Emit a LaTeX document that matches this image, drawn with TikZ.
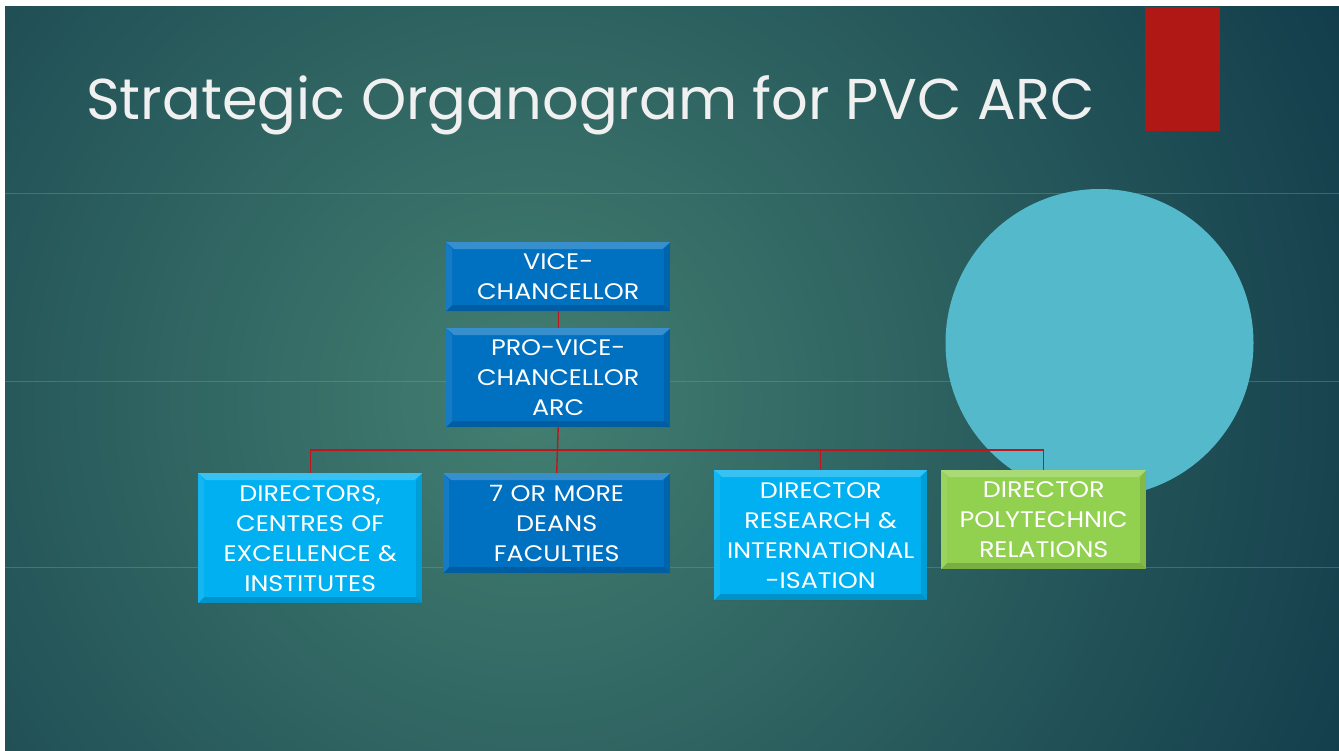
\documentclass[tikz,border=0pt]{standalone}
\usepackage{fontspec}
\setmainfont{Poppins}
\newfontfamily\boxfont{Poppins}[FakeStretch=1.13]
\definecolor{bgdark}{HTML}{0E3748}
\definecolor{bglight}{HTML}{437F71}
\definecolor{officeblue}{HTML}{0070C0}
\definecolor{officelight}{HTML}{00B0F0}
\definecolor{officegreen}{HTML}{92D050}
\definecolor{linered}{HTML}{C0161B}
\definecolor{accentred}{HTML}{B01815}
\definecolor{circlecol}{HTML}{53B9CB}
\definecolor{ruleline}{HTML}{6F9FA6}
\tikzset{
  orgbox/.style={rectangle, fill=#1, inner sep=2pt, anchor=north west,
    text=white, align=center,
    font=\boxfont\fontsize{22.5}{30}\selectfont,
    path picture={
      \fill[white,opacity=0.22] (path picture bounding box.north west) -- (path picture bounding box.north east)
        -- ([xshift=-8pt,yshift=-7pt]path picture bounding box.north east) -- ([xshift=8pt,yshift=-7pt]path picture bounding box.north west) -- cycle;
      \fill[white,opacity=0.08] (path picture bounding box.north west) -- (path picture bounding box.south west)
        -- ([xshift=6pt,yshift=6pt]path picture bounding box.south west) -- ([xshift=6pt,yshift=-7pt]path picture bounding box.north west) -- cycle;
      \fill[black,opacity=0.10] (path picture bounding box.north east) -- (path picture bounding box.south east)
        -- ([xshift=-6pt,yshift=6pt]path picture bounding box.south east) -- ([xshift=-6pt,yshift=-7pt]path picture bounding box.north east) -- cycle;
      \fill[black,opacity=0.16] (path picture bounding box.south west) -- (path picture bounding box.south east)
        -- ([xshift=-6pt,yshift=6pt]path picture bounding box.south east) -- ([xshift=6pt,yshift=6pt]path picture bounding box.south west) -- cycle;
    }},
  conn/.style={draw=linered, line width=1.4pt},
  rulestyle/.style={draw=ruleline, line width=0.8pt, opacity=0.4}
}
\begin{document}
\begin{tikzpicture}[x=1pt,y=-1pt]
\useasboundingbox (0,0) rectangle (1339,751);
\fill[white] (0,0) rectangle (1339,751);
\begin{scope}
\clip (5,7) rectangle (1339,751);
\fill[bgdark] (5,7) rectangle (1339,751);
\shade[inner color=bglight, outer color=bgdark] (530,400) circle (980);
\end{scope}
% faint horizontal rules
\draw[rulestyle] (5,193) -- (1339,193);
\draw[rulestyle] (5,381) -- (1339,381);
\draw[rulestyle] (5,567) -- (1339,567);
% title
\node[anchor=base west, text=white!94!black, font=\fontsize{57.5}{70}\selectfont, inner sep=0] (title) at (86,120) {Strategic Organogram for PVC ARC};
% red accent
\fill[accentred] (1145,7) rectangle (1220,131);
% circle
\fill[circlecol] (1099.5,343) circle (154);
% boxes
\node[orgbox=officeblue, minimum width=224pt, minimum height=69pt, text width=220pt] (vc) at (446,242) {VICE-\\CHANCELLOR};
\node[orgbox=officeblue, minimum width=224pt, minimum height=99pt, text width=220pt] (pvc) at (446,328) {PRO-VICE-\\CHANCELLOR\\ARC};
\node[orgbox=officelight, minimum width=224pt, minimum height=130pt, text width=220pt] (dir) at (198,473) {DIRECTORS,\\CENTRES OF\\EXCELLENCE \&\\INSTITUTES};
\node[orgbox=officeblue, minimum width=227pt, minimum height=100pt, text width=223pt] (deans) at (443,473) {7 OR MORE\\DEANS\\FACULTIES};
\node[orgbox=officelight, minimum width=213pt, minimum height=130pt, text width=209pt] (res) at (714,470) {DIRECTOR\\RESEARCH \&\\INTERNATIONAL\\-ISATION};
\node[orgbox=officegreen, minimum width=205pt, minimum height=99pt, text width=201pt] (poly) at (941,470) {DIRECTOR\\POLYTECHNIC\\RELATIONS};
% connectors
\coordinate (bus) at (558,450);
\draw[conn] (vc.south) -- (pvc.north);
\draw[conn] (pvc.south) -- (deans.north);
\draw[conn] (dir.north) -- (dir.north |- bus) -- (poly.north |- bus) -- (poly.north);
\draw[conn] (res.north) -- (res.north |- bus);
\end{tikzpicture}
\end{document}
